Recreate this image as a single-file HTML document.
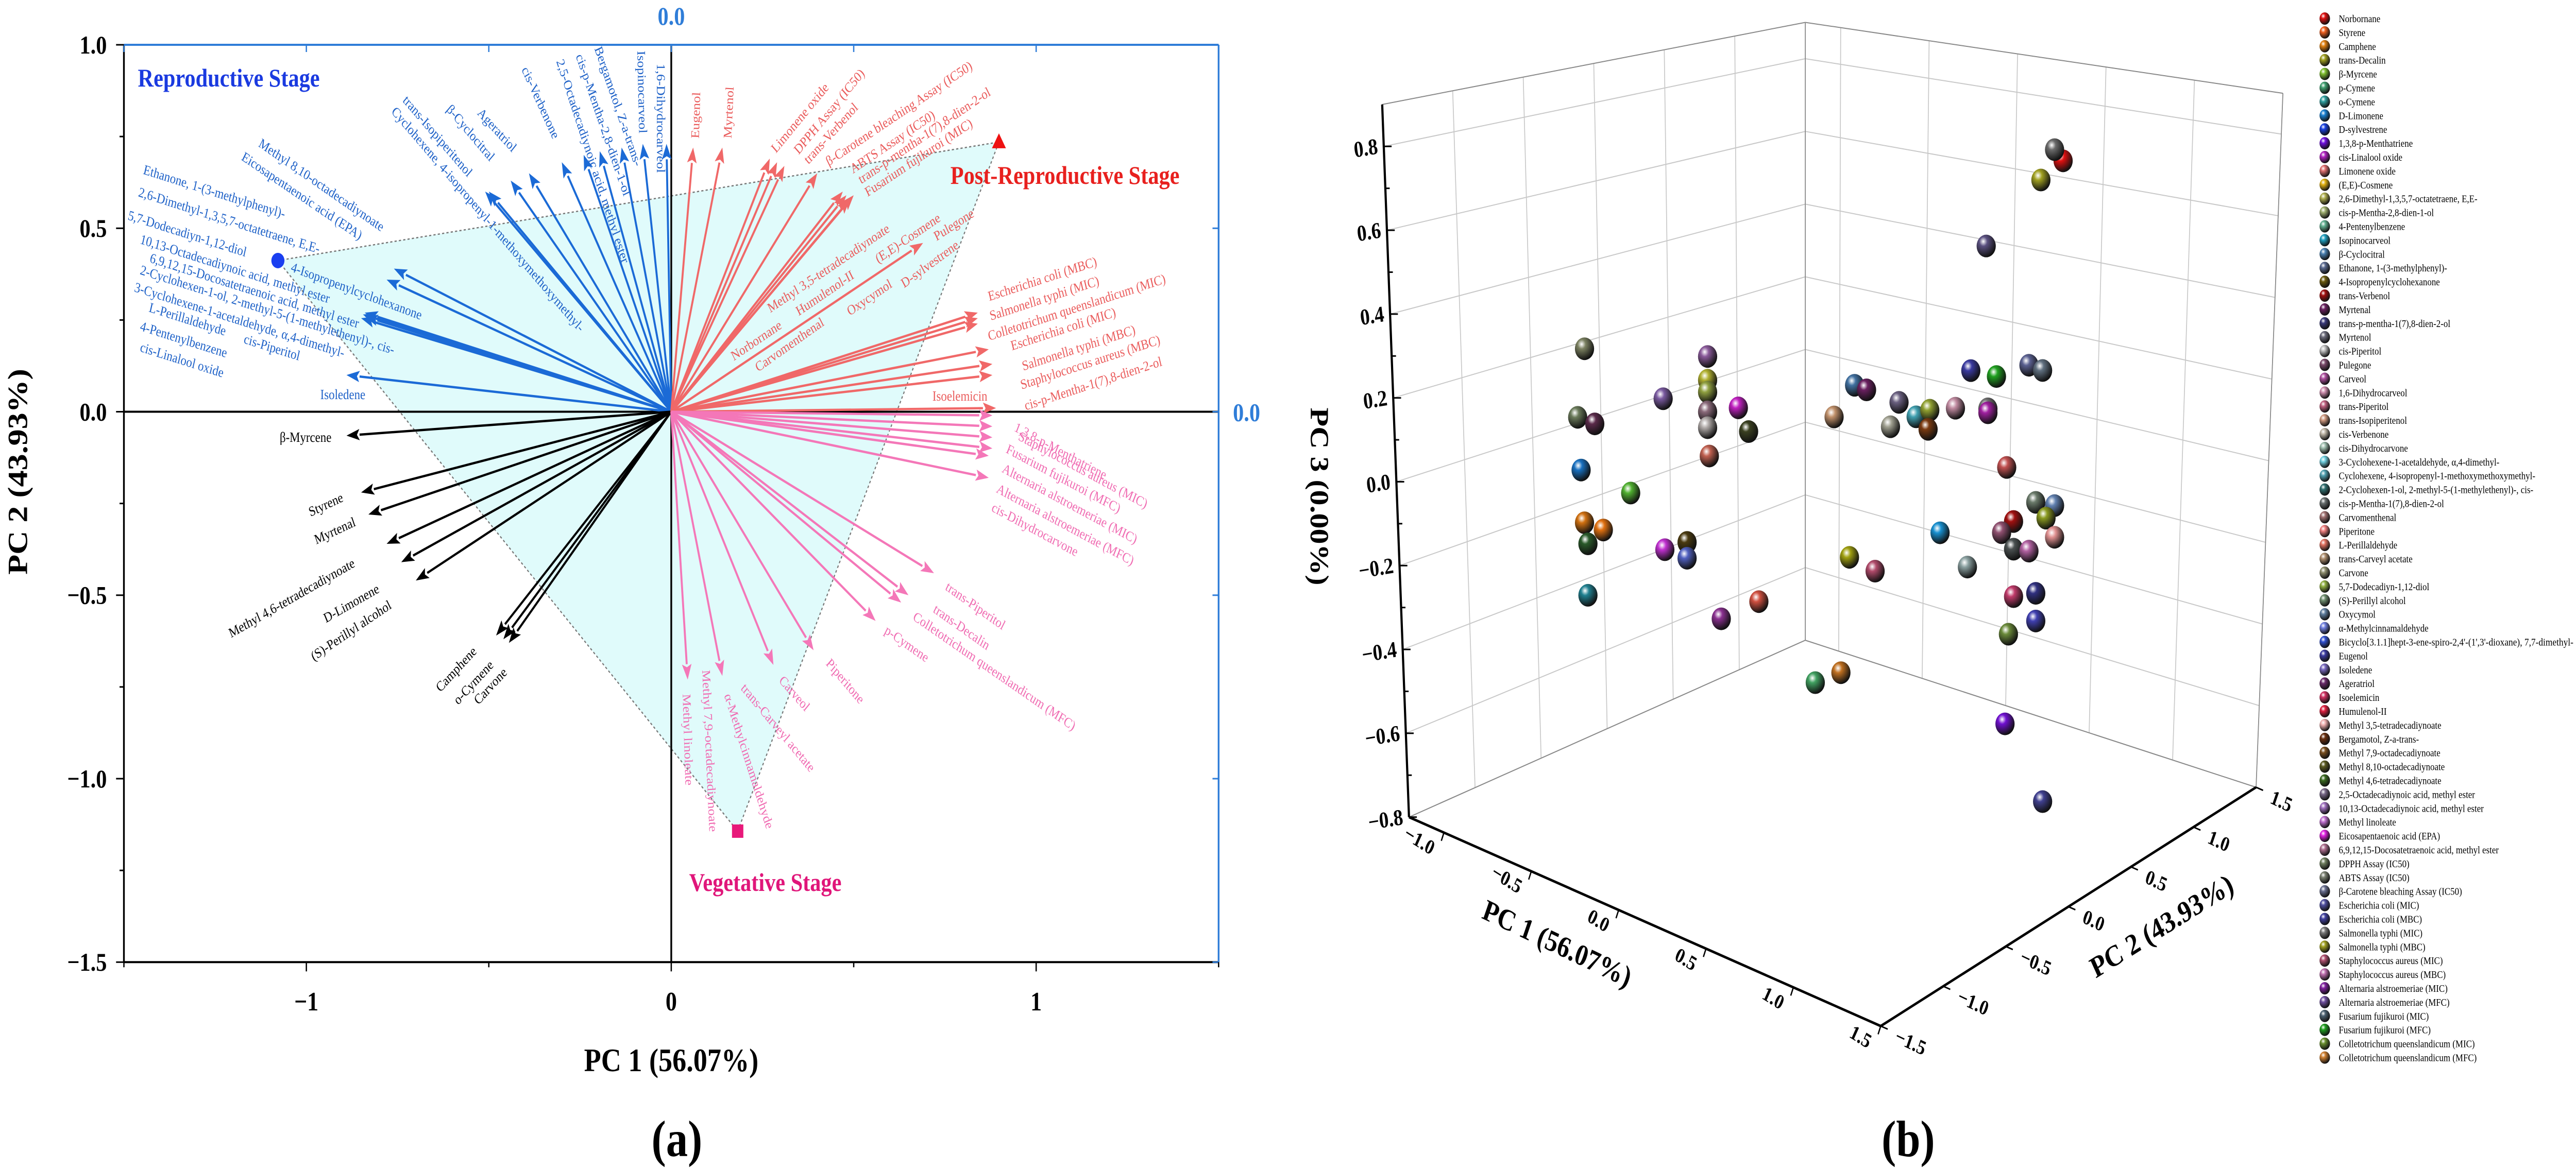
<!DOCTYPE html>
<html><head><meta charset="utf-8">
<style>
html,body{margin:0;padding:0;background:#fff;width:100%;height:100%;overflow:hidden;}
svg{display:block;font-family:"Liberation Serif",serif;overflow:hidden;width:100vw;height:100vh;}
</style></head>
<body>
<svg id="fig" viewBox="0 0 5906 2268" preserveAspectRatio="none" xmlns="http://www.w3.org/2000/svg"></svg>
<script>
// ---------- Panel (a) data: biplot loadings ----------
const blueX = [-0.013,-0.078,-0.136,-0.196,-0.24,-0.30,-0.39,-0.44,-0.51,-0.50,-0.76,-0.78,-0.84,-0.845,-0.84,-0.85,-0.89];
const blueY = [0.73,0.73,0.72,0.71,0.70,0.68,0.65,0.63,0.60,0.60,0.39,0.36,0.27,0.265,0.26,0.255,0.10];
const blackX = [-0.89,-0.85,-0.83,-0.78,-0.74,-0.70,-0.48,-0.46,-0.445];
const blackY = [-0.065,-0.22,-0.28,-0.36,-0.41,-0.46,-0.61,-0.62,-0.63];
const redX = [0.06,0.14,0.27,0.29,0.31,0.40,0.47,0.48,0.49,0.69,0.50,0.84,0.84,0.84,0.87,0.88,0.88,0.89];
const redY = [0.72,0.72,0.69,0.68,0.67,0.65,0.60,0.59,0.58,0.46,0.59,0.27,0.255,0.24,0.17,0.13,0.10,0.01];
const pinkX = [0.88,0.88,0.88,0.88,0.87,0.87,0.72,0.65,0.63,0.56,0.39,0.28,0.14,0.045];
const pinkY = [-0.01,-0.04,-0.07,-0.10,-0.12,-0.18,-0.44,-0.50,-0.52,-0.57,-0.65,-0.69,-0.72,-0.73];
const stageX = [-1.078,0.898,0.182];
const stageY = [0.412,0.735,-1.143];
const xTicks = [-1,0,1];
const xTickLabels = ["\u22121","0","1"];
const yTicks = [1.0,0.5,0.0,-0.5,-1.0,-1.5];
const yTickLabels = ["1.0","0.5","0.0","\u22120.5","\u22121.0","\u22121.5"];

// ---------- Panel (b) data: PC1 / PC3 scores (PC2 plane = 0) ----------
const pc1 = [1.47,1.42,1.34,1.02,-1.33,-0.61,-0.61,-0.61,-0.87,-0.43,-1.37,-1.27,-0.61,-0.61,-0.37,-0.60,-1.35,-1.06,-1.33,-1.22,-1.31,-0.86,-0.73,-0.73,-1.31,-0.31,-0.53,0.02,0.17,1.13,1.35,0.93,1.08,1.27,1.35,0.25,0.32,0.51,0.13,0.46,0.61,0.69,0.68,0.84,1.03,1.03,1.14,1.31,1.42,1.37,1.18,1.11,1.42,1.18,1.27,0.75,0.91,0.22,0.37,1.18,1.31,1.31,1.15];
const pc3 = [1.08,1.10,1.01,0.79,0.14,0.24,0.18,0.15,0.09,0.14,-0.04,-0.04,0.10,0.06,0.09,-0.01,-0.17,-0.18,-0.30,-0.30,-0.35,-0.29,-0.25,-0.29,-0.48,-0.33,-0.41,-0.48,-0.43,-0.40,-0.56,0.46,0.47,0.53,0.53,0.31,0.31,0.31,0.21,0.24,0.29,0.32,0.27,0.35,0.38,0.37,0.25,0.19,0.20,0.16,0.12,0.08,0.12,0.05,0.06,0.02,-0.04,-0.13,-0.14,-0.07,-0.04,-0.11,-0.17];
const ptColors = ["#e01010","#6a6a6a","#a0a020","#5a5080","#7a8060","#8a5a9a","#b0b030","#90a040","#7a5aa0","#c020c0","#6a7a5a","#5a2a4a","#8a6a7a","#b0aaa8","#3a4020","#c06050","#1870c0","#50b030","#d07010","#e07010","#2a5a2a","#c030d0","#4a3a10","#5060c0","#208090","#d05040","#8a3090","#40a060","#c07020","#7010d0","#404090","#3a3aa0","#20a020","#5a6090","#607080","#4070a0","#6a2060","#6a6080","#c0906a","#a0a090","#40a0b0","#90a030","#7a3a10","#c08aa0","#707070","#a020a0","#c05050","#6a7a6a","#6080b0","#8a9a20","#a01010","#905070","#e09090","#4a5050","#b060a0","#1890d0","#8aa0a0","#a0a010","#b04a6a","#c03a6a","#303080","#4040b0","#6a8a3a"];
const legendNames = ["Norbornane","Styrene","Camphene","trans-Decalin","\u03b2-Myrcene","p-Cymene","o-Cymene","D-Limonene","D-sylvestrene","1,3,8-p-Menthatriene","cis-Linalool oxide","Limonene oxide","(E,E)-Cosmene","2,6-Dimethyl-1,3,5,7-octatetraene, E,E-","cis-p-Mentha-2,8-dien-1-ol","4-Pentenylbenzene","Isopinocarveol","\u03b2-Cyclocitral","Ethanone, 1-(3-methylphenyl)-","4-Isopropenylcyclohexanone","trans-Verbenol","Myrtenal","trans-p-mentha-1(7),8-dien-2-ol","Myrtenol","cis-Piperitol","Pulegone","Carveol","1,6-Dihydrocarveol","trans-Piperitol","trans-Isopiperitenol","cis-Verbenone","cis-Dihydrocarvone","3-Cyclohexene-1-acetaldehyde, \u03b1,4-dimethyl-","Cyclohexene, 4-isopropenyl-1-methoxymethoxymethyl-","2-Cyclohexen-1-ol, 2-methyl-5-(1-methylethenyl)-, cis-","cis-p-Mentha-1(7),8-dien-2-ol","Carvomenthenal","Piperitone","L-Perillaldehyde","trans-Carveyl acetate","Carvone","5,7-Dodecadiyn-1,12-diol","(S)-Perillyl alcohol","Oxycymol","\u03b1-Methylcinnamaldehyde","Bicyclo[3.1.1]hept-3-ene-spiro-2,4'-(1',3'-dioxane), 7,7-dimethyl-","Eugenol","Isoledene","Ageratriol","Isoelemicin","Humulenol-II","Methyl 3,5-tetradecadiynoate","Bergamotol, Z-a-trans-","Methyl 7,9-octadecadiynoate","Methyl 8,10-octadecadiynoate","Methyl 4,6-tetradecadiynoate","2,5-Octadecadiynoic acid, methyl ester","10,13-Octadecadiynoic acid, methyl ester","Methyl linoleate","Eicosapentaenoic acid (EPA)","6,9,12,15-Docosatetraenoic acid, methyl ester","DPPH Assay (IC50)","ABTS Assay (IC50)","\u03b2-Carotene bleaching Assay (IC50)","Escherichia coli (MIC)","Escherichia coli (MBC)","Salmonella typhi (MIC)","Salmonella typhi (MBC)","Staphylococcus aureus (MIC)","Staphylococcus aureus (MBC)","Alternaria alstroemeriae (MIC)","Alternaria alstroemeriae (MFC)","Fusarium fujikuroi (MIC)","Fusarium fujikuroi (MFC)","Colletotrichum queenslandicum (MIC)","Colletotrichum queenslandicum (MFC)"];
const legendColors = ["#e01010","#f06020","#e08010","#a0a020","#80c030","#40a070","#30a0a0","#1880d0","#1840e0","#7010e0","#b020c0","#e07070","#e0b010","#b0b050","#a0b070","#60b090","#20a0c0","#4a80b0","#5a6a90","#6a5a10","#a01010","#6a2060","#3a3a7a","#6a6a7a","#c0c0c0","#7a4a6a","#b050a0","#d090b0","#c06080","#d09a80","#c0b8a8","#a0c0b0","#70d0e0","#50a0b0","#307070","#6a7070","#a07070","#f08080","#e07060","#b09070","#909070","#90b040","#709070","#6080a0","#7080e0","#3050d0","#3a3aa0","#7a6ac0","#6a2a6a","#d03060","#e02040","#f0b0b0","#6a3010","#7a5020","#5a5a20","#3a6a20","#7a6a8a","#a070c0","#c070d0","#e020e0","#b07090","#708060","#7a8070","#6a7090","#5050a0","#4040a0","#7a7a7a","#a0a020","#b05070","#c070b0","#8020a0","#7050a0","#4a6070","#20a020","#6a9030","#d08030"];

// ---------- helpers ----------
const svg = document.getElementById('fig');
const NS = 'http://www.w3.org/2000/svg';
function mk(tag, attrs, parent){ const e=document.createElementNS(NS,tag); for(const k in attrs) e.setAttribute(k,attrs[k]); (parent||svg).appendChild(e); return e; }
function txt(s, attrs, parent){ const e=mk('text',attrs,parent); e.textContent=s; return e; }

// Panel (a) axes
function X(v){ return 1539 + v*836.6; }
function Y(v){ return 87 + (1-v)*712.5; }
const gA = mk('g',{});



const tri = mk('polygon',{points: stageX.map((x,i)=>X(x)+','+Y(stageY[i])).join(' '), fill:'#e0fbfb', stroke:'#777', 'stroke-width':2.5, 'stroke-dasharray':'5,5'}, gA);



const zl1 = mk('line',{x1:X(-1.5),y1:Y(0),x2:X(1.5),y2:Y(0),stroke:'#000','stroke-width':4},gA);


const zl2 = mk('line',{x1:X(0),y1:Y(1),x2:X(0),y2:Y(-1.5),stroke:'#000','stroke-width':4},gA);



const axL = mk('line',{x1:X(-1.5),y1:Y(1),x2:X(-1.5),y2:Y(-1.5),stroke:'#000','stroke-width':4},gA);


const axB = mk('line',{x1:X(-1.5),y1:Y(-1.5),x2:X(1.5),y2:Y(-1.5),stroke:'#000','stroke-width':4},gA);


const axT = mk('line',{x1:X(-1.5),y1:Y(1),x2:X(1.5),y2:Y(1),stroke:'#2f7dd8','stroke-width':4},gA);


const axR = mk('line',{x1:X(1.5),y1:Y(1),x2:X(1.5),y2:Y(-1.5),stroke:'#2f7dd8','stroke-width':4},gA);


[-1.5,-1,-0.5,0,0.5,1,1.5].forEach(v=>{
  mk('line',{x1:X(v),y1:Y(1),x2:X(v),y2:Y(1)+14,stroke:'#2f7dd8','stroke-width':3},gA);
});
[1,0.5,0,-0.5,-1,-1.5].forEach(v=>{
  mk('line',{x1:X(1.5),y1:Y(v),x2:X(1.5)-14,y2:Y(v),stroke:'#2f7dd8','stroke-width':3},gA);
});
const tz = txt('0.0',{x:X(0),y:48,'font-size':50,'font-weight':'bold',fill:'#2f7dd8','text-anchor':'middle'},gA);


const rz = txt('0.0',{x:2858,y:Y(0)+18,'font-size':50,'font-weight':'bold',fill:'#2f7dd8','text-anchor':'middle'},gA);



for(let v=-1.5; v<=1.001; v+=0.25){
  const major = Math.abs(v*2-Math.round(v*2))<1e-6;
  mk('line',{x1:X(-1.5),y1:Y(v),x2:X(-1.5)-(major?18:10),y2:Y(v),stroke:'#000','stroke-width':3},gA);
}
yTicks.forEach((v,i)=>{
  const t = txt(yTickLabels[i],{x:245,y:Y(v)+17,'font-size':50,'font-weight':'bold','text-anchor':'end'},gA);
  
  
});
for(let v=-1.5; v<=1.501; v+=0.5){
  const major = Math.abs(v-Math.round(v))<1e-6;
  mk('line',{x1:X(v),y1:Y(-1.5),x2:X(v),y2:Y(-1.5)+(major?18:10),stroke:'#000','stroke-width':3},gA);
}
xTicks.forEach((v,i)=>{
  const t = txt(xTickLabels[i],{x:X(v),y:1962,'font-size':52,'font-weight':'bold','text-anchor':'middle'},gA);
  
  
});
const xt = txt('PC 1 (56.07%)',{x:X(0),y:2080,'font-size':64,'font-weight':'bold','text-anchor':'middle'},gA);


const yt = txt('PC 2 (43.93%)',{x:0,y:0,'font-size':64,'font-weight':'bold','text-anchor':'middle',transform:'translate(62,916) rotate(-90)'},gA);


const la = txt('(a)',{x:1552,y:2245,'font-size':100,'font-weight':'bold','text-anchor':'middle'},gA);



function arrows(xs, ys, color, name){
  const g = mk('g',{},gA);
  
  
  xs.forEach((x,i)=>{
    const x0=X(0), y0=Y(0), x1=X(x), y1=Y(ys[i]);
    const dx=x1-x0, dy=y1-y0, L=Math.hypot(dx,dy), ux=dx/L, uy=dy/L;
    const hl=30, hw=11;
    const bx=x1-ux*hl, by=y1-uy*hl;
    const ln = mk('line',{x1:x0,y1:y0,x2:bx,y2:by,stroke:color,'stroke-width':4.5},g);
    
    
    const hd = mk('polygon',{points:`${x1},${y1} ${bx-uy*hw},${by+ux*hw} ${bx+ux*6},${by+uy*6} ${bx+uy*hw},${by-ux*hw}`,fill:color},g);
    
    
  });
}
arrows(blueX,blueY,'#1b6ad6','reproductive-arrows');
arrows(blackX,blackY,'#000','negative-arrows');
arrows(redX,redY,'#f06868','post-reproductive-arrows');
arrows(pinkX,pinkY,'#f477b8','vegetative-arrows');

const BL='#1f62c8', RD='#ea5c5c', PK='#f06cb2', BK='#000';
const labels = [
 ["Ethanone, 1-(3-methylphenyl)-",176,232,15,BL],["2,6-Dimethyl-1,3,5,7-octatetraene, E,E-",170,262,15,BL],["5,7-Dodecadiyn-1,12-diol",157,293,15,BL],["10,13-Octadecadiynoic acid, methyl ester",172,325,15,BL],["6,9,12,15-Docosatetraenoic acid, methyl ester",184,350,15,BL],["2-Cyclohexen-1-ol, 2-methyl-5-(1-methylethenyl)-, cis-",172,366,15,BL],["3-Cyclohexene-1-acetaldehyde, \u03b1,4-dimethyl-",165,389,15,BL],["L-Perillaldehyde",183,416,15,BL],["cis-Piperitol",300,458,15,BL],["4-Pentenylbenzene",172,441,15,BL],["cis-Linalool oxide",172,469,15,BL],["Methyl 8,10-octadecadiynoate",318,195,30.5,BL],["Eicosapentaenoic acid (EPA)",297,213,30,BL],["4-Isopropenylcyclohexanone",358,362,17.6,BL],["Isoledene",395,533,0,BL],
 ["1,6-Dihydrocarveol",810,85,90,BL],["Isopinocarveol",786,68,88.5,BL],["Bergamotol, Z-a-trans-",733,65,68,BL],["cis-p-Mentha-2,8-dien-1-ol",710,75,68,BL],["2,5-Octadecadiynoic acid, methyl ester",686,82,69,BL],["cis-Verbenone",643,93,62,BL],["Ageratriol",588,152,43,BL],["\u03b2-Cyclocitral",550,147,45,BL],["trans-Isopiperitenol",496,135,44.7,BL],["Cyclohexene, 4-isopropenyl-1-methoxymethoxymethyl-",482,150,44.7,BL],
 ["\u03b2-Myrcene",345,590,0,BK],["Styrene",383,690,-21.7,BK],["Myrtenal",390,727,-21.7,BK],["Methyl 4,6-tetradecadiynoate",285,852,-26,BK],["D-Limonene",402,832,-26,BK],["(S)-Perillyl alcohol",387,883,-30,BK],["Camphene",543,925,-42.7,BK],["o-Cymene",565,942,-42.7,BK],["Carvone",590,942,-42.7,BK],
 ["Eugenol",862,185,-88,RD],["Myrtenol",902,185,-87,RD],["Limonene oxide",957,205,-46,RD],["DPPH Assay (IC50)",985,207,-45.8,RD],["trans-Verbenol",997,220,-43.5,RD],["\u03b2-Carotene bleaching Assay (IC50)",1022,222,-29.8,RD],["ABTS Assay (IC50)",1052,232,-29.8,RD],["trans-p-mentha-1(7),8-dien-2-ol",1062,246,-30.2,RD],["Fusarium fujikuroi (MIC)",1070,263,-29.6,RD],
 ["Methyl 3,5-tetradecadiynoate",950,418,-30,RD],["Norbornane",905,482,-30,RD],["Humulenol-II",985,422,-30,RD],["Carvomenthenal",935,497,-31,RD],["(E,E)-Cosmene",1083,352,-30,RD],["Oxycymol",1048,422,-30,RD],["D-sylvestrene",1115,385,-32,RD],["Pulegone",1155,322,-29,RD],
 ["Escherichia coli (MBC)",1220,402,-15.5,RD],["Salmonella typhi (MIC)",1222,428,-15.5,RD],["Colletotrichum queenslandicum (MIC)",1220,455,-15.5,RD],["Escherichia coli (MIC)",1248,468,-15.5,RD],["Salmonella typhi (MBC)",1262,495,-15.5,RD],["Staphylococcus aureus (MBC)",1260,520,-15.5,RD],["cis-p-Mentha-1(7),8-dien-2-ol",1265,548,-15.5,RD],["Isoelemicin",1150,535,0,RD],
 ["1,3,8-p-Menthatriene",1250,575,24.6,PK],["Staphylococcus aureus (MIC)",1255,587,24.6,PK],["Fusarium fujikuroi (MFC)",1240,604,24.6,PK],["Alternaria alstroemeriae (MIC)",1235,630,24.6,PK],["Alternaria alstroemeriae (MFC)",1228,657,24.6,PK],["cis-Dihydrocarvone",1222,682,24.6,PK],
 ["trans-Piperitol",1165,787,31,PK],["trans-Decalin",1150,817,31,PK],["Colletotrichum queenslandicum (MFC)",1125,827,30.5,PK],["p-Cymene",1090,845,31,PK],["Piperitone",1018,887,45,PK],["Carveol",960,910,44,PK],["trans-Carveyl acetate",913,920,45.5,PK],["\u03b1-Methylcinnamaldehyde",893,929,69.5,PK],["Methyl 7,9-octadecadiynoate",866,895,87,PK],["Methyl linoleate",842,927,88,PK]
];
labels.forEach(l=>{
  const x=l[1]*1.859, y=l[2]*1.454;
  const t = txt(l[0],{x:x,y:y,'font-size':27,fill:l[4],transform:`rotate(${l[3]} ${x} ${y})`},gA);
  
  
});

const m1 = mk('circle',{cx:X(stageX[0]),cy:Y(stageY[0]),r:15,fill:'#1a3ff0'},gA);


const tx=X(stageX[1]), ty=Y(stageY[1]);
const m2 = mk('polygon',{points:`${tx},${ty-17} ${tx-16},${ty+12} ${tx+16},${ty+12}`,fill:'#ee1111'},gA);


const m3 = mk('rect',{x:X(stageX[2])-13,y:Y(stageY[2])-13,width:26,height:26,fill:'#e8197a'},gA);


const s1 = txt('Reproductive Stage',{x:316,y:168,'font-size':50,'font-weight':'bold',fill:'#1a3ae0'},gA);


const s2 = txt('Post-Reproductive Stage',{x:2179,y:357,'font-size':50,'font-weight':'bold',fill:'#e8201e'},gA);


const s3 = txt('Vegetative Stage',{x:1580,y:1730,'font-size':50,'font-weight':'bold',fill:'#e0167a'},gA);



// ---------- Panel (b): 3D scatter ----------
const gB = mk('g',{});


function zx(v){ return 2900 + v*1.921; }
function zy(v){ return v*1.449; }
const A=[zx(172),zy(1095)], B=[zx(735),zy(1375)], C=[zx(1183),zy(1055)], D=[zx(645),zy(858)];
const At=[zx(140),zy(140)], Dt=[zx(645),zy(30)], Ct=[zx(1215),zy(125)];
function lerp(p,q,t){ return [p[0]+(q[0]-p[0])*t, p[1]+(q[1]-p[1])*t]; }
const xr=[-1.2,1.5], yr=[-1.5,1.5], zr=[-0.8,0.9];
function U(x){ return (x-xr[0])/(xr[1]-xr[0]); }
function V(y){ return (y-yr[0])/(yr[1]-yr[0]); }
function Wz(z){ return (z-zr[0])/(zr[1]-zr[0]); }
function line(p,q,attrs,parent){ return mk('line',Object.assign({x1:p[0],y1:p[1],x2:q[0],y2:q[1]},attrs),parent); }
const grid={stroke:'#c8c8c8','stroke-width':2};
const gridG = mk('g',{},gB);


[-1.5,-1,-0.5,0,0.5,1,1.5].forEach(y=>{ const v=V(y); line(lerp(A,D,v),lerp(At,Dt,v),grid,gridG); });
[-1,-0.5,0,0.5,1,1.5].forEach(x=>{ const u=U(x); line(lerp(D,C,u),lerp(Dt,Ct,u),grid,gridG); });
for(let z=-0.8; z<=0.81; z+=0.2){ const w=Wz(z); const a=lerp(A,At,w), d=lerp(D,Dt,w), c=lerp(C,Ct,w); line(a,d,grid,gridG); line(d,c,grid,gridG); }
const thin={stroke:'#888','stroke-width':2};
line(D,Dt,thin,gB); line(A,D,thin,gB); line(D,C,thin,gB); line(At,Dt,thin,gB); line(Dt,Ct,thin,gB); line(C,Ct,thin,gB);
const zax = line(A,At,{stroke:'#000','stroke-width':5},gB);


const xax = line(A,B,{stroke:'#000','stroke-width':5},gB);


const yax = line(B,C,{stroke:'#000','stroke-width':5},gB);


for(let z=-0.8; z<=0.81; z+=0.1){ const p=lerp(A,At,Wz(z)); const major=Math.round(z*10)%2===0; line(p,[p[0]+(major?18:10),p[1]],{stroke:'#000','stroke-width':3},gB); }
const zLabels=["\u22120.8","\u22120.6","\u22120.4","\u22120.2","0.0","0.2","0.4","0.6","0.8"];
zLabels.forEach((s,i)=>{ const z=-0.8+0.2*i; const p=lerp(A,At,Wz(z)); const t=txt(s,{x:p[0]-14,y:p[1]+14,'font-size':44,'font-weight':'bold','text-anchor':'end',transform:`rotate(-8 ${p[0]-14} ${p[1]})`},gB);   });
const xLab3=["\u22121.0","\u22120.5","0.0","0.5","1.0","1.5"];
xLab3.forEach((s,i)=>{ const x=-1+0.5*i; const p=lerp(A,B,U(x)); line(p,[p[0]-6,p[1]+16],{stroke:'#000','stroke-width':3},gB); const t=txt(s,{x:p[0]-30,y:p[1]+44,'font-size':40,'font-weight':'bold','text-anchor':'end',transform:`rotate(28 ${p[0]-30} ${p[1]+44})`},gB);   });
const yLab3=["\u22121.5","\u22121.0","\u22120.5","0.0","0.5","1.0","1.5"];
yLab3.forEach((s,i)=>{ const y=-1.5+0.5*i; const p=lerp(B,C,V(y)); line(p,[p[0]+16,p[1]+6],{stroke:'#000','stroke-width':3},gB); const t=txt(s,{x:p[0]+30,y:p[1]+30,'font-size':40,'font-weight':'bold',transform:`rotate(22 ${p[0]+30} ${p[1]+30})`},gB);   });
const t1 = txt('PC 1 (56.07%)',{x:3563,y:1850,'font-size':58,'font-weight':'bold','text-anchor':'middle',transform:'rotate(22 3563 1850)'},gB);


const t2 = txt('PC 2 (43.93%)',{x:4965,y:1815,'font-size':58,'font-weight':'bold','text-anchor':'middle',transform:'rotate(-28 4965 1815)'},gB);


const t3 = txt('PC 3 (0.00%)',{x:3005,y:964,'font-size':60,'font-weight':'bold','text-anchor':'middle',transform:'rotate(90 3005 964)'},gB);


const lb = txt('(b)',{x:4375,y:2245,'font-size':100,'font-weight':'bold','text-anchor':'middle'},gB);



const defs = mk('defs',{});
function grad(id,color){ const g=mk('radialGradient',{id:id,cx:'35%',cy:'30%',r:'70%'},defs); mk('stop',{offset:'0%','stop-color':'#ffffff'},g); mk('stop',{offset:'30%','stop-color':color},g); mk('stop',{offset:'100%','stop-color':'#111'},g); }
function PX(p1){ return zx(408 + (p1+1.2)*204); }
function PY(p1,p3){ return zy(977 + (p1+1.2)*88 - (p3+0.8)*530); }
const ptsG = mk('g',{},gB);


pc1.forEach((v,i)=>{
  grad('pg'+i, ptColors[i]);
  const c = mk('circle',{cx:PX(v),cy:PY(v,pc3[i]),r:22,fill:`url(#pg${i})`},ptsG);
  
  
});
const lg = mk('g',{},gB);


legendNames.forEach((n,i)=>{
  const y = 36 + i*26.9;
  grad('lg'+i, legendColors[i]);
  const c = mk('circle',{cx:5330,cy:y,r:12,fill:`url(#lg${i})`},lg);
  
  
  const attrs = {x:5362,y:y+7,'font-size':20};
  if(n.length > 60){ attrs.textLength = 538; attrs.lengthAdjust = 'spacingAndGlyphs'; }
  const t = txt(n,attrs,lg);
  
  
});
</script>
</body></html>
